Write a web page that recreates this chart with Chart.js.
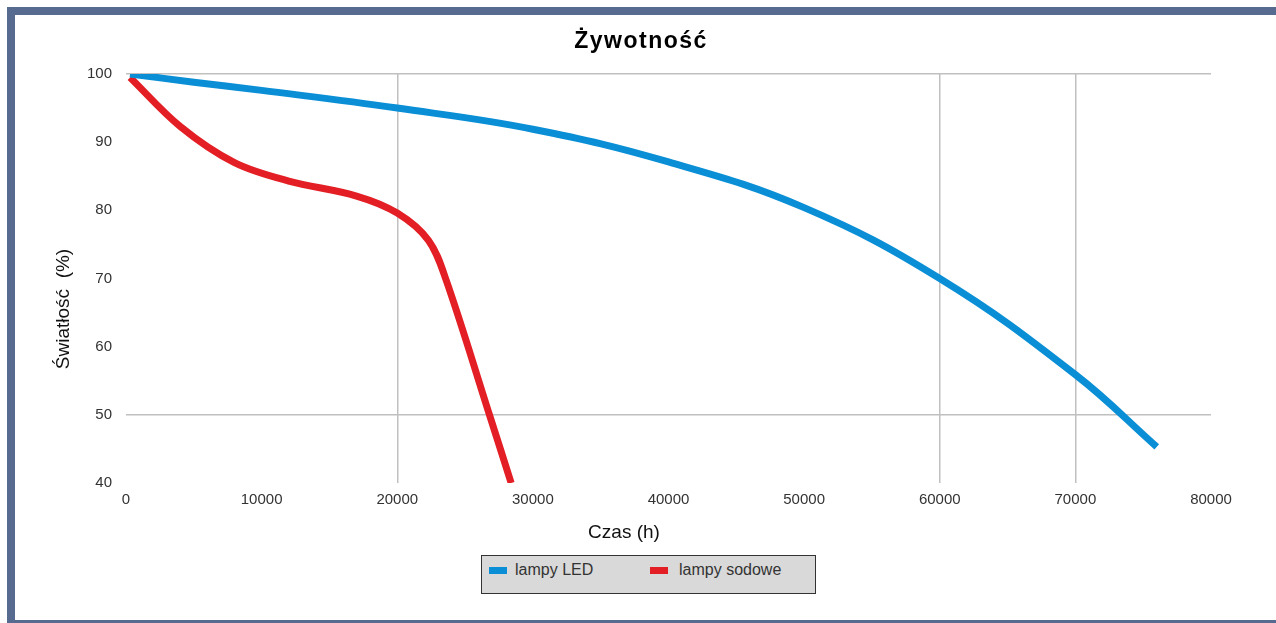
<!DOCTYPE html>
<html>
<head>
<meta charset="utf-8">
<script src="https://cdn.jsdelivr.net/npm/chart.js@4/dist/chart.umd.min.js"></script>
<style>
  html, body { margin: 0; padding: 0; background: #fff; overflow: hidden; }
  body { width: 1276px; height: 623px; position: relative; font-family: "Liberation Sans", Arial, sans-serif; }
  #frame {
    position: absolute; left: 7px; top: 7px; width: 1300px; height: 605px;
    border-left: 8px solid #576b90; border-top: 8px solid #576b90; border-bottom: 8px solid #576b90;
  }
  #chart { position: absolute; left: 0; top: 0; }
  #legend {
    position: absolute; left: 481px; top: 555px; width: 333px; height: 37px;
    background: #d9d9d9; border: 1px solid #333; color: #333; font-size: 16px;
  }
  #legend .sw { position: absolute; top: 11px; width: 18px; height: 7px; }
  #legend .tx { position: absolute; top: 5px; white-space: nowrap; }
</style>
</head>
<body>
<div id="frame"></div>
<canvas id="chart" width="1276" height="623"></canvas>
<div id="legend">
  <div class="sw" style="left:7px;background:#0a8fd6"></div>
  <div class="tx" style="left:33px">lampy LED</div>
  <div class="sw" style="left:168px;background:#e31e24"></div>
  <div class="tx" style="left:197px">lampy sodowe</div>
</div>
<script>
'use strict';

var SERIES_NAMES = ['lampy LED', 'lampy sodowe'];

var LED_HOURS = [300, 5000, 10000, 20000, 30000, 40000, 50000, 60000, 70000, 76000];
var LED_LIGHT = [100, 98.8, 97.6, 95.0, 91.9, 87.1, 80.4, 70.0, 55.9, 45.3];

var SOD_HOURS = [300, 4000, 8000, 12000, 17000, 20000, 22300, 23600, 26800, 28400];
var SOD_LIGHT = [99.5, 92.3, 87.0, 84.3, 82.1, 79.6, 75.6, 69.8, 50.0, 40.0];

var X_GRID = [20000, 60000, 70000];
var Y_GRID = [50, 100];

function toPoints(xs, ys) {
  return xs.map(function(x, i) { return { x: x, y: ys[i] }; });
}

var FONT = '"Liberation Sans", Arial, sans-serif';

// titles sit off-centre in the original, so they are drawn by hand
var chartTexts = {
  id: 'chartTexts',
  afterDraw: function(chart) {
    var ctx = chart.ctx;
    ctx.save();
    ctx.textAlign = 'center';
    ctx.textBaseline = 'middle';

    ctx.fillStyle = '#000';
    ctx.font = 'bold 23px ' + FONT;
    ctx.letterSpacing = '1.5px';
    ctx.fillText('Żywotność', 641, 42);
    ctx.letterSpacing = '0px';

    ctx.fillStyle = '#111';
    ctx.font = '19px ' + FONT;
    ctx.fillText('Czas (h)', 624, 533);
    ctx.translate(64, 309);
    ctx.rotate(-Math.PI / 2);
    ctx.fillText('Światłość  (%)', 0, 0);
    ctx.restore();
  }
};

var ctx = document.getElementById('chart').getContext('2d');

new Chart(ctx, {
  type: 'line',
  data: {
    datasets: [{
      label: SERIES_NAMES[0],
      data: toPoints(LED_HOURS, LED_LIGHT),
      borderColor: '#0a8fd6',
      borderWidth: 7,
      pointRadius: 0,
      tension: 0.4,
    }, {
      label: SERIES_NAMES[1],
      data: toPoints(SOD_HOURS, SOD_LIGHT),
      borderColor: '#e31e24',
      borderWidth: 7,
      pointRadius: 0,
      tension: 0.35,
    }],
  },
  options: {
    responsive: false,
    animation: false,
    layout: { padding: { top: 74, left: 0, right: 65, bottom: 100 } },
    plugins: {
      legend: { display: false },
      tooltip: { enabled: false },
      title: { display: false },
    },
    scales: {
      x: {
        type: 'linear',
        min: 0,
        max: 80000,
        afterFit: function(s) { s.height = 40; },
        grid: {
          drawTicks: false,
          lineWidth: 1.5,
          color: function(c) { return X_GRID.indexOf(c.tick.value) >= 0 ? '#c0c0c0' : 'rgba(0,0,0,0)'; },
        },
        border: { display: false },
        ticks: {
          stepSize: 10000,
          padding: 8,
          color: '#333',
          font: { family: FONT, size: 15 },
          callback: function(v) { return String(v); },
        },
      },
      y: {
        min: 40,
        max: 100,
        afterFit: function(s) { s.width = 126; },
        grid: {
          drawTicks: false,
          lineWidth: 1.5,
          color: function(c) { return Y_GRID.indexOf(c.tick.value) >= 0 ? '#c0c0c0' : 'rgba(0,0,0,0)'; },
        },
        border: { display: false },
        ticks: {
          stepSize: 10,
          padding: 14,
          color: '#333',
          font: { family: FONT, size: 15 },
        },
      },
    },
  },
  plugins: [chartTexts],
});
</script>
</body>
</html>
